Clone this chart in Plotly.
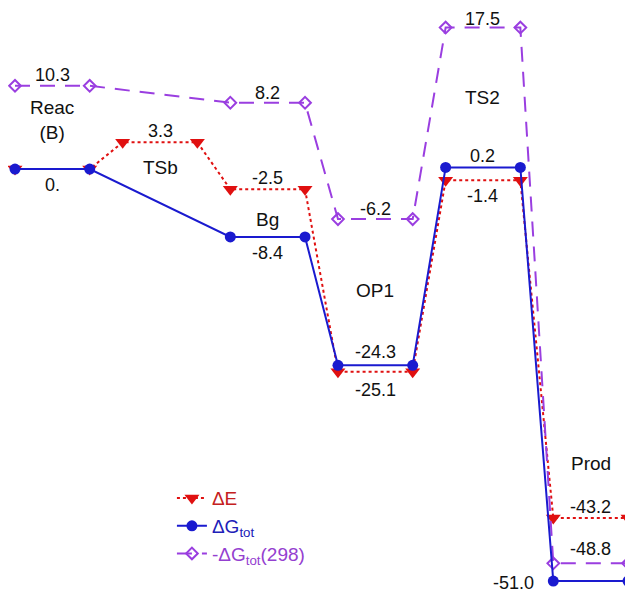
import plotly.graph_objects as go

# ---- data ----
states = ["Reac", "TSb", "Bg", "OP1", "TS2", "Prod"]
state_names = ["Reac<br>(B)", "TSb", "Bg", "OP1", "TS2", "Prod"]
dE = [0.0, 3.3, -2.5, -25.1, -1.4, -43.2]
dG = [0.0, None, -8.4, -24.3, 0.2, -51.0]
mdG298 = [10.3, None, 8.2, -6.2, 17.5, -48.8]
dG_labels = ["0.", "", "-8.4", "-24.3", "0.2", "-51.0"]
series_names = ["ΔE", "ΔG<sub>tot</sub>", "-ΔG<sub>tot</sub>(298)"]

# ---- layout / style parameters ----
SEG = 0.694  # width of each level segment in state units
name_y = [6.1, 0.2, -6.2, -15.0, 8.8, -36.5]
# label offsets (pixels) for each series' value labels: (xshift, yshift)
dE_off = [None, (0, 11), (0, 11), (0, -18), (0, -16), (0, 11)]
dG_off = [(0, -16), None, (0, -16), (0, 13), (0, 11), (-40, -2)]
p_off = [(0, 11), None, (0, 10), (0, 10), (0, 9), (0, 14)]

RED = "#e01010"
BLUE = "#1a1acf"
PURPLE = "#9a3ee0"
RED_T = "#c42020"
BLUE_T = "#2020b8"
PURPLE_T = "#9440d0"
FONT = "Liberation Sans, Arial, sans-serif"


def expand(vals):
    xs, ys = [], []
    for i, v in enumerate(vals):
        xs += [i, i + SEG]
        ys += [v, v]
    return xs, ys


def colored(txt, col):
    return f"<span style='color:{col}'>{txt}</span>"


fig = go.Figure()

xe, ye = expand(dE)
fig.add_trace(go.Scatter(
    x=xe, y=ye, mode="lines+markers", name=colored(series_names[0], RED_T), legendrank=1,
    line=dict(color=RED, width=2, dash="dot"),
    marker=dict(symbol="triangle-down", size=13, color=RED),
    connectgaps=True, cliponaxis=False))

xp, yp = expand(mdG298)
fig.add_trace(go.Scatter(
    x=xp, y=yp, mode="lines+markers", name=colored(series_names[2], PURPLE_T), legendrank=3,
    line=dict(color=PURPLE, width=2, dash="15px,10px"),
    marker=dict(symbol="diamond-open", size=9, color=PURPLE, line=dict(width=2)),
    connectgaps=True, cliponaxis=False))

xg, yg = expand(dG)
fig.add_trace(go.Scatter(
    x=xg, y=yg, mode="lines+markers", name=colored(series_names[1], BLUE_T), legendrank=2,
    line=dict(color=BLUE, width=2),
    marker=dict(symbol="circle", size=11, color=BLUE),
    connectgaps=True, cliponaxis=False))

ann = []
lab_font = dict(family=FONT, size=18, color="#111111")
for i in range(len(states)):
    cx = i + SEG / 2
    if dE_off[i] is not None:
        ann.append(dict(x=cx, y=dE[i], text=f"{dE[i]:.1f}", showarrow=False,
                        xshift=dE_off[i][0], yshift=dE_off[i][1], font=lab_font))
    if dG_off[i] is not None and dG[i] is not None:
        xx = cx if dG_off[i][0] == 0 else i
        ann.append(dict(x=xx, y=dG[i], text=dG_labels[i], showarrow=False,
                        xshift=dG_off[i][0], yshift=dG_off[i][1], font=lab_font))
    if p_off[i] is not None and mdG298[i] is not None:
        ann.append(dict(x=cx, y=mdG298[i], text=f"{mdG298[i]:.1f}", showarrow=False,
                        xshift=p_off[i][0], yshift=p_off[i][1], font=lab_font))
    ann.append(dict(x=cx, y=name_y[i], text=state_names[i], showarrow=False,
                    font=dict(family=FONT, size=19, color="#111111")))

fig.update_layout(
    width=633, height=593,
    margin=dict(l=7, r=13, t=2, b=11),
    paper_bgcolor="white", plot_bgcolor="white",
    xaxis=dict(range=[0, 5 + SEG], visible=False, fixedrange=True),
    yaxis=dict(range=[-52.1, 19.68], visible=False, fixedrange=True),
    annotations=ann,
    showlegend=True,
    legend=dict(x=0.256, y=0.191, xanchor="left", yanchor="top",
                bgcolor="rgba(0,0,0,0)", font=dict(family=FONT, size=19),
                tracegroupgap=0),
)

fig.write_html("out.html")
